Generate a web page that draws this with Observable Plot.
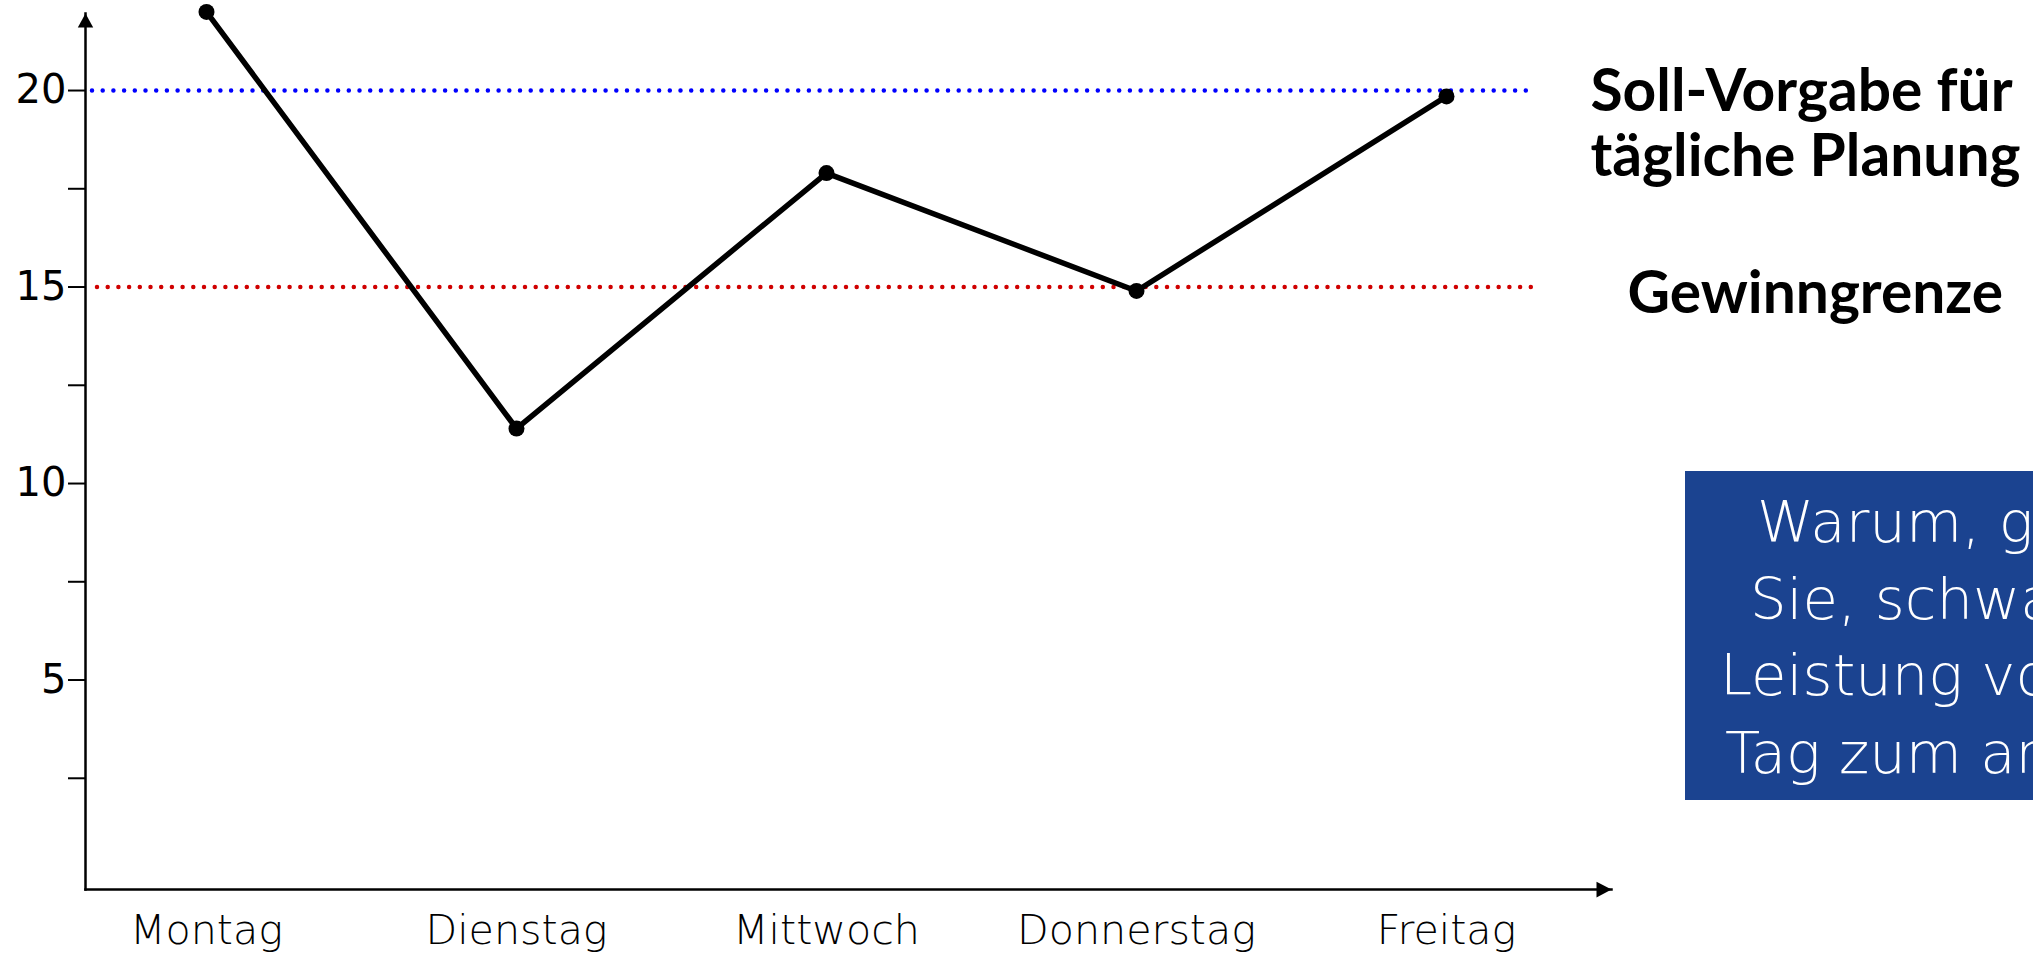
<!DOCTYPE html>
<html><head><meta charset="utf-8">
<script src="https://cdn.jsdelivr.net/npm/d3@7"></script>
<script src="https://cdn.jsdelivr.net/npm/@observablehq/plot@0.6"></script>
<style>
html,body{margin:0;padding:0;background:#fff;overflow:hidden;color:#000;}
#wrap{position:relative;width:2033px;height:954px;overflow:hidden;}
#box{position:absolute;left:1685px;top:471px;width:348px;height:329px;background:#1b4390;overflow:hidden;}
</style></head><body><div id="wrap"></div>
<script>
// ---- data ----
const days = ["Montag", "Dienstag", "Mittwoch", "Donnerstag", "Freitag"];
const values = [22, 11.4, 17.9, 14.9, 19.85];
const yMajorTicks = [5, 10, 15, 20];
const yMinorTicks = [2.5, 7.5, 12.5, 17.5];
const targetLevel = [20];      // Soll-Vorgabe
const breakEvenLevel = [15];   // Gewinngrenze
const targetLabel = "Soll-Vorgabe für\ntägliche Planung";
const breakEvenLabel = "Gewinngrenze";
const boxLines = ["Warum, glauben", "Sie, schwankt die", "Leistung von einem", "Tag zum anderen?"];

const data = days.map((d, i) => ({day: d, value: values[i]}));

// font fitting helper
const ctx = document.createElement("canvas").getContext("2d");
function fit(text, family, weight, target) {
  ctx.font = `${weight} 100px ${family}`;
  return 100 * target / ctx.measureText(text).width;
}
const thinFont = "'DejaVu Sans', sans-serif";
const boldFont = "Lato, sans-serif";
const xFont = fit("Donnerstag", thinFont, 200, 239);
const bFont = fit("tägliche Planung", boldFont, 700, 430);
const boxFont = fit("Leistung", thinFont, 200, 243);

const triUp = {draw(c, size) { const r = Math.sqrt(size / Math.PI); c.moveTo(0, -r); c.lineTo(1.1 * r, r); c.lineTo(-1.1 * r, r); c.closePath(); }};
const triRight = {draw(c, size) { const r = Math.sqrt(size / Math.PI); c.moveTo(r, 0); c.lineTo(-r, 1.05 * r); c.lineTo(-r, -1.05 * r); c.closePath(); }};

const plot = Plot.plot({
  width: 2033, height: 954,
  marginLeft: 85, marginRight: 422, marginTop: 13, marginBottom: 65,
  x: {type: "point", domain: days, range: [205, 1446], padding: 0, label: null},
  y: {domain: [-0.33, 21.96], label: null},
  style: {background: "transparent", color: "#000"},
  marks: [
    Plot.ruleY(targetLevel, {stroke: "#0000ff", strokeWidth: 4.5, strokeDasharray: "0 10.7", strokeLinecap: "round", insetLeft: 7, insetRight: 76}),
    Plot.ruleY(breakEvenLevel, {stroke: "#d00000", strokeWidth: 4.5, strokeDasharray: "0 10.7", strokeLinecap: "round", insetLeft: 12, insetRight: 71}),
    Plot.frame({anchor: "left", strokeWidth: 2.5}),
    Plot.frame({anchor: "bottom", strokeWidth: 2.5}),
    Plot.dot([0], {frameAnchor: "top-left", symbol: triUp, r: 7, fill: "#000", dy: 7}),
    Plot.dot([0], {frameAnchor: "bottom-right", symbol: triRight, r: 7.5, fill: "#000", dx: -7.5}),
    Plot.axisY({ticks: yMinorTicks, tickSize: 17, strokeWidth: 2, tickFormat: () => ""}),
    Plot.axisY({ticks: yMajorTicks, tickSize: 17, tickPadding: 2, strokeWidth: 2, fontSize: 40, fontFamily: "'DejaVu Sans', sans-serif", fill: "#000"}),
    Plot.axisX({tickSize: 0, tickPadding: 943 - 0.71 * xFont - 889, fontSize: xFont, fontFamily: thinFont, fontWeight: 200, fill: "#000"}),
    Plot.line(data, {x: "day", y: "value", stroke: "#000", strokeWidth: 5.5}),
    Plot.dot(data, {x: "day", y: "value", r: 8, fill: "#000"}),
    Plot.text(targetLevel, {y: d => d, text: () => targetLabel, frameAnchor: "right", textAnchor: "start", lineAnchor: "bottom", dx: -21, dy: 85, lineHeight: 65 / bFont, fontSize: bFont, fontWeight: 700, fontFamily: boldFont, fill: "#000"}),
    Plot.text(breakEvenLevel, {y: d => d, text: () => breakEvenLabel, frameAnchor: "right", textAnchor: "start", lineAnchor: "bottom", dx: 16, dy: 25.5, fontSize: bFont, fontWeight: 700, fontFamily: boldFont, fill: "#000"})
  ]
});
const wrap = document.getElementById("wrap");
wrap.appendChild(plot);

// annotation box
const box = d3.select(wrap).append("div").attr("id", "box");
const bsvg = box.append("svg").attr("width", 348).attr("height", 329);
const offsets = [72, 65, 35, 40];
const baselines = [71, 148, 224, 302];
bsvg.selectAll("text").data(boxLines).join("text")
  .attr("x", (d, i) => offsets[i])
  .attr("y", (d, i) => baselines[i])
  .attr("fill", "#fff")
  .attr("font-family", thinFont)
  .attr("font-weight", 200)
  .attr("font-size", boxFont)
  .text(d => d);
</script></body></html>
